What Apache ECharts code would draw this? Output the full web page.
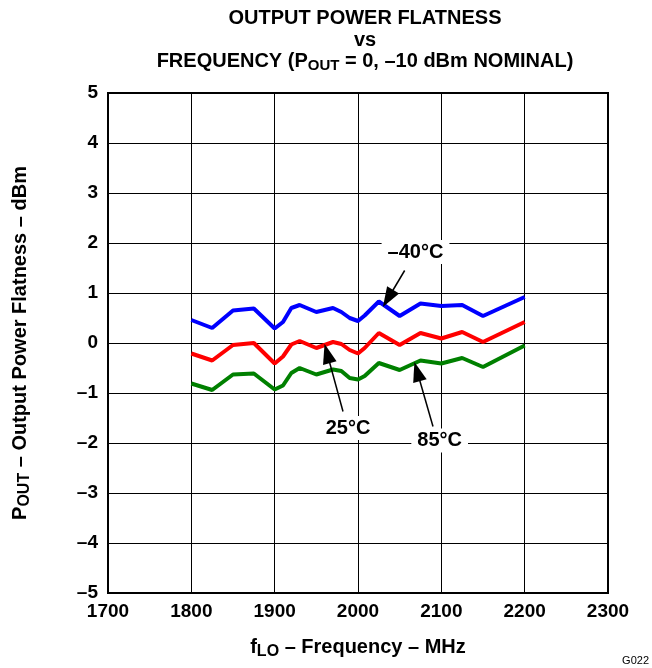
<!DOCTYPE html>
<html>
<head>
<meta charset="utf-8">
<script src="https://cdn.jsdelivr.net/npm/echarts@6/dist/echarts.min.js"></script>
<style>html,body{margin:0;padding:0;background:#fff;}#c{width:652px;height:668px;}</style>
</head>
<body>
<div id="c"></div>
<script>
// Data
var freq = [1800,1825,1850,1875,1900,1910,1920,1930,1950,1970,1980,1990,2000,2008,2025,2050,2075,2100,2125,2150,2200];
var tMinus40 = [0.46,0.30,0.65,0.69,0.29,0.42,0.70,0.76,0.62,0.70,0.62,0.50,0.44,0.55,0.83,0.54,0.79,0.74,0.76,0.54,0.92];
var t25 = [-0.21,-0.35,-0.04,0.00,-0.41,-0.27,-0.03,0.04,-0.10,0.02,-0.02,-0.14,-0.21,-0.10,0.20,-0.04,0.20,0.09,0.22,0.02,0.42];
var t85 = [-0.81,-0.94,-0.63,-0.61,-0.93,-0.85,-0.60,-0.50,-0.63,-0.53,-0.56,-0.70,-0.73,-0.66,-0.40,-0.54,-0.35,-0.41,-0.30,-0.48,-0.05];
var seriesNames = ['–40°C','25°C','85°C'];
var xTicks = [1700,1800,1900,2000,2100,2200,2300];
var yTicks = [-5,-4,-3,-2,-1,0,1,2,3,4,5];
// annotation anchors (data coords): label position, arrow start, arrow tip
var labelPos = [[2069,1.82],[1988,-1.70],[2098,-1.95]];
var arrowFrom = [[2056,1.45],[1982,-1.37],[2090,-1.67]];
var arrowTo = [[2036,0.89],[1963,-0.21],[2071,-0.57]];

var FONT = 'Liberation Sans, Arial, sans-serif';
function pairs(xs, ys){ return xs.map(function(x,i){ return [x, ys[i]]; }); }
var colors = ['#0000ff','#ff0000','#008000'];
var vals = [tMinus40, t25, t85];

var series = vals.map(function(v,i){
  return {
    name: seriesNames[i], type:'line', data: pairs(freq, v), showSymbol:false,
    lineStyle:{color:colors[i], width:4}, itemStyle:{color:colors[i]}, z:3, silent:true, animation:false
  };
});
series.push({
  type:'line', data:[], silent:true, animation:false, z:5,
  markLine:{
    silent:true, animation:false, symbol:['none','triangle'], symbolSize:[14,20],
    itemStyle:{color:'#000'},
    lineStyle:{color:'#000', width:1.5, type:'solid'}, label:{show:false},
    data: arrowFrom.map(function(a,i){ return [{coord:a},{coord:arrowTo[i]}]; })
  },
  markPoint:{
    silent:true, animation:false, symbol:'circle', symbolSize:0,
    label:{show:true, position:'inside', color:'#000', fontFamily:FONT, fontWeight:'bold', fontSize:20,
      backgroundColor:'#fff', padding:[2,6]},
    data: labelPos.map(function(p,i){ return {coord:p, value:seriesNames[i], label:{formatter:seriesNames[i]}}; })
  }
});

var chart = echarts.init(document.getElementById('c'), null, {renderer:'canvas'});
chart.setOption({
  animation:false,
  backgroundColor:'#fff',
  title:{
    left:360, textAlign:'center', top:3,
    text:'{a|OUTPUT POWER FLATNESS}\n{a|vs}\n{a|FREQUENCY (P}{s|OUT}{a| = 0, –10 dBm NOMINAL)}',
    textStyle:{
      fontFamily:FONT, fontWeight:'bold', fontSize:20, color:'#000', lineHeight:21.5,
      rich:{
        a:{fontFamily:FONT, fontWeight:'bold', fontSize:20, color:'#000', lineHeight:21.5},
        s:{fontFamily:FONT, fontWeight:'bold', fontSize:15, color:'#000', lineHeight:21.5, padding:[9,0,0,0]}
      }
    }
  },
  grid:{left:108, right:44, top:93, bottom:75, show:true, borderColor:'#000', borderWidth:2, backgroundColor:'transparent'},
  xAxis:{
    type:'value', min:xTicks[0], max:xTicks[xTicks.length-1], interval:100,
    axisLine:{show:true, onZero:false, lineStyle:{color:'#000', width:2}}, axisTick:{show:false},
    splitLine:{show:true, lineStyle:{color:'#000', width:1}},
    axisLabel:{color:'#000', fontFamily:FONT, fontWeight:'bold', fontSize:19, margin:9,
      formatter:function(v){ return String(v); }},
    name:'{a|f}{s|LO}{a| – Frequency – MHz}', nameLocation:'middle', nameGap:42,
    nameTextStyle:{fontFamily:FONT, fontWeight:'bold', fontSize:20, color:'#000',
      rich:{a:{fontFamily:FONT, fontWeight:'bold', fontSize:20, color:'#000'},
            s:{fontFamily:FONT, fontWeight:'bold', fontSize:16, color:'#000', padding:[9,0,0,0]}}}
  },
  yAxis:{
    type:'value', min:yTicks[0], max:yTicks[yTicks.length-1], interval:1,
    axisLine:{show:true, onZero:false, lineStyle:{color:'#000', width:2}}, axisTick:{show:false},
    splitLine:{show:true, lineStyle:{color:'#000', width:1}},
    axisLabel:{color:'#000', fontFamily:FONT, fontWeight:'bold', fontSize:19, margin:10,
      formatter:function(v){ return v<0 ? '–'+Math.abs(v) : String(v); }},
    name:'{a|P}{s|OUT}{a| – Output Power Flatness – dBm}', nameLocation:'middle', nameGap:75, nameRotate:90,
    nameTextStyle:{fontFamily:FONT, fontWeight:'bold', fontSize:20, color:'#000',
      rich:{a:{fontFamily:FONT, fontWeight:'bold', fontSize:20, color:'#000'},
            s:{fontFamily:FONT, fontWeight:'bold', fontSize:16, color:'#000', padding:[9,0,0,0]}}}
  },
  graphic:[{type:'text', right:3, bottom:2, style:{text:'G022', fontFamily:FONT, fontSize:11, fill:'#000'}}],
  series:series
});
</script>
</body>
</html>
